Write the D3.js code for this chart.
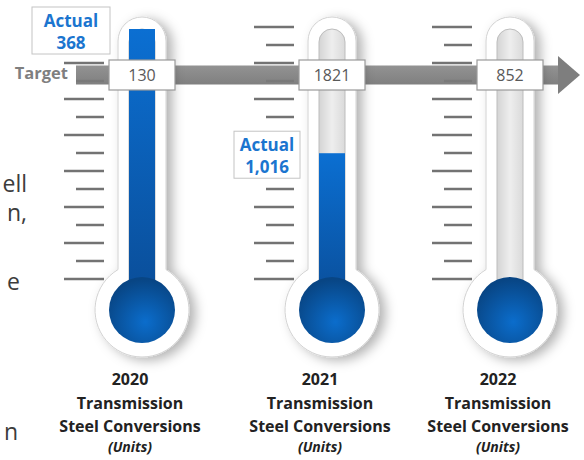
<!DOCTYPE html>
<html>
<head>
<meta charset="utf-8">
<script src="https://cdn.jsdelivr.net/npm/d3@7"></script>
<style>
  body { margin: 0; background: #fff; }
  svg { display: block; font-family: "Open Sans", "Noto Sans", sans-serif; }
</style>
</head>
<body>
<div id="chart"></div>
<script>
// values
var years = ["2020", "2021", "2022"];
var targets = [130, 1821, 852];
var actuals = [368, 1016, null];
var labelLines = ["Transmission", "Steel Conversions", "(Units)"];
// cropped words of the neighbouring text block at the left edge
var sideWords = ["ell", "n,", "e", "n"];

var width = 584, height = 460;

// layout
var tubeOuterW = 24, tubeInnerW = 13, outerTop = 17, innerTop = 29;
var bulbY = 310, bulbOuterR = 47, bulbInnerR = 33;
var bandY = 75;

var data = years.map(function (y, i) {
  return { year: y, target: targets[i], actual: actuals[i] };
});

var svg = d3.select("#chart").append("svg")
  .attr("width", width).attr("height", height);

var defs = svg.append("defs");

var sh = defs.append("filter").attr("id", "shadow")
  .attr("x", "-50%").attr("y", "-20%").attr("width", "200%").attr("height", "140%");
sh.append("feDropShadow").attr("dx", 6).attr("dy", 3).attr("stdDeviation", 6)
  .attr("flood-color", "#000").attr("flood-opacity", 0.3);

var tubeGrad = defs.append("linearGradient").attr("id", "tubeGrad")
  .attr("x1", 0).attr("x2", 1).attr("y1", 0).attr("y2", 0);
tubeGrad.append("stop").attr("offset", "0%").attr("stop-color", "#d4d4d4");
tubeGrad.append("stop").attr("offset", "50%").attr("stop-color", "#eeeeee");
tubeGrad.append("stop").attr("offset", "100%").attr("stop-color", "#dadada");

var fillGrad = defs.append("linearGradient").attr("id", "fillGrad")
  .attr("x1", 0).attr("x2", 0).attr("y1", 0).attr("y2", 1);
fillGrad.append("stop").attr("offset", "0%").attr("stop-color", "#0b6fd2");
fillGrad.append("stop").attr("offset", "100%").attr("stop-color", "#0a4c96");

var bulbGrad = defs.append("radialGradient").attr("id", "bulbGrad")
  .attr("cx", "55%").attr("cy", "68%").attr("r", "65%");
bulbGrad.append("stop").attr("offset", "0%").attr("stop-color", "#0b6dcc");
bulbGrad.append("stop").attr("offset", "100%").attr("stop-color", "#084584");

var bandGrad = defs.append("linearGradient").attr("id", "bandGrad")
  .attr("x1", 0).attr("x2", 0).attr("y1", 0).attr("y2", 1);
bandGrad.append("stop").attr("offset", "0%").attr("stop-color", "#8a8a8a");
bandGrad.append("stop").attr("offset", "100%").attr("stop-color", "#767676");

// scales
var x = d3.scaleOrdinal().domain(years).range([142, 332, 510]);
// share of target reached: 0 at bulb centre, 1 at top of tube
var level = d3.scaleLinear().domain([0, 1]).range([bulbY, innerTop]).clamp(true);
// decorative scale marks beside each tube
var tickScale = d3.scaleLinear().domain([0, 14]).range([279, 27]);
var tickIdx = d3.range(15);

// side text fragments
var sideG = svg.append("g").attr("fill", "#3c3c3c")
  .style("font-size", "23px");
var sidePos = [[27, 192], [27, 221], [20, 290], [18, 440]];
sideG.selectAll("text").data(sideWords).enter().append("text")
  .attr("x", function (d, i) { return sidePos[i][0]; })
  .attr("y", function (d, i) { return sidePos[i][1]; })
  .attr("text-anchor", "end")
  .text(function (d) { return d; });

// ticks
data.forEach(function (d) {
  var right = x(d.year) - tubeOuterW - 14;
  svg.append("g").selectAll("line").data(tickIdx).enter().append("line")
    .attr("x1", function (t) { return t % 2 === 0 ? right - 40 : right - 28; })
    .attr("x2", right)
    .attr("y1", function (t) { return tickScale(t); })
    .attr("y2", function (t) { return tickScale(t); })
    .attr("stroke", "#737373")
    .attr("stroke-width", 2.5);
});

// target band + arrow
svg.append("rect")
  .attr("x", 76).attr("y", bandY - 9.5).attr("width", 483).attr("height", 19)
  .attr("fill", "url(#bandGrad)").attr("fill-opacity", 0.93);
svg.append("path")
  .attr("d", "M558," + (bandY - 19) + " L580," + bandY + " L558," + (bandY + 19) + " Z")
  .attr("fill", "#7e7e7e");
svg.append("text")
  .attr("x", 68).attr("y", bandY + 4)
  .attr("text-anchor", "end")
  .attr("fill", "#7f7f7f")
  .style("font-size", "16.5px").style("font-weight", 700)
  .text("Target");

// thermometers
var therm = svg.selectAll(".therm").data(data).enter().append("g")
  .attr("class", "therm");

function outerPath(cx) {
  var w = tubeOuterW, R = bulbOuterR;
  var yj = bulbY - Math.sqrt(R * R - w * w);
  return "M" + (cx - w) + "," + yj +
    " L" + (cx - w) + "," + (outerTop + w) +
    " A" + w + "," + w + " 0 0 1 " + (cx + w) + "," + (outerTop + w) +
    " L" + (cx + w) + "," + yj +
    " A" + R + "," + R + " 0 1 1 " + (cx - w) + "," + yj + " Z";
}

therm.append("path")
  .attr("d", function (d) { return outerPath(x(d.year)); })
  .attr("fill", "#fff")
  .attr("stroke", "#d2d2d2")
  .attr("stroke-width", 1)
  .attr("filter", "url(#shadow)");

therm.append("rect")
  .attr("x", function (d) { return x(d.year) - tubeInnerW; })
  .attr("y", innerTop)
  .attr("width", tubeInnerW * 2)
  .attr("height", bulbY - innerTop)
  .attr("rx", tubeInnerW)
  .attr("fill", "url(#tubeGrad)")
  .attr("stroke", "#bdbdbd")
  .attr("stroke-width", 1);

therm.filter(function (d) { return d.actual != null; })
  .append("rect")
  .attr("x", function (d) { return x(d.year) - tubeInnerW; })
  .attr("y", function (d) { return level(d.actual / d.target); })
  .attr("width", tubeInnerW * 2)
  .attr("height", function (d) { return bulbY - level(d.actual / d.target); })
  .attr("fill", "url(#fillGrad)");

therm.append("circle")
  .attr("cx", function (d) { return x(d.year); })
  .attr("cy", bulbY)
  .attr("r", bulbInnerR)
  .attr("fill", "url(#bulbGrad)");

// target boxes
therm.append("rect")
  .attr("x", function (d) { return x(d.year) - 33; })
  .attr("y", bandY - 15)
  .attr("width", 66).attr("height", 30)
  .attr("fill", "#fff")
  .attr("stroke", "#9a9a9a").attr("stroke-width", 1.2);
therm.append("text")
  .attr("x", function (d) { return x(d.year); })
  .attr("y", bandY + 6)
  .attr("text-anchor", "middle")
  .attr("fill", "#595959")
  .style("font-size", "16px")
  .text(function (d) { return d.target; });

// actual call-outs
var boxW = { "2020": 78, "2021": 66 };
var act = therm.filter(function (d) { return d.actual != null; })
  .append("g")
  .attr("transform", function (d) {
    var right = x(d.year) - tubeOuterW - 8;
    return "translate(" + (right - boxW[d.year]) + "," + (level(d.actual / d.target) - 22) + ")";
  });
act.append("rect")
  .attr("width", function (d) { return boxW[d.year]; })
  .attr("height", 47)
  .attr("fill", "#fff")
  .attr("stroke", "#c4c4c4").attr("stroke-width", 1);
act.append("text")
  .attr("x", function (d) { return boxW[d.year] / 2; })
  .attr("y", 20)
  .attr("text-anchor", "middle")
  .attr("fill", "#1b75cf")
  .style("font-size", "17px").style("font-weight", 700)
  .text("Actual");
act.append("text")
  .attr("x", function (d) { return boxW[d.year] / 2; })
  .attr("y", 42)
  .attr("text-anchor", "middle")
  .attr("fill", "#1b75cf")
  .style("font-size", "17px").style("font-weight", 700)
  .text(function (d) { return d3.format(",")(d.actual); });

// category labels
var lab = therm.append("text")
  .attr("text-anchor", "middle")
  .attr("fill", "#222")
  .style("font-weight", 700);
lab.append("tspan")
  .attr("x", function (d) { return x(d.year) - 12; })
  .attr("y", 385)
  .style("font-size", "16px")
  .text(function (d) { return d.year; });
lab.selectAll(".ln").data(function () { return labelLines; }).enter()
  .append("tspan")
  .attr("class", "ln")
  .attr("x", function () { return x(d3.select(this.parentNode).datum().year) - 12; })
  .attr("y", function (l, i) { return [409, 432, 452][i]; })
  .style("font-size", function (l, i) { return i === 2 ? "14px" : "16px"; })
  .style("font-style", function (l, i) { return i === 2 ? "italic" : "normal"; })
  .text(function (l) { return l; });
</script>
</body>
</html>
